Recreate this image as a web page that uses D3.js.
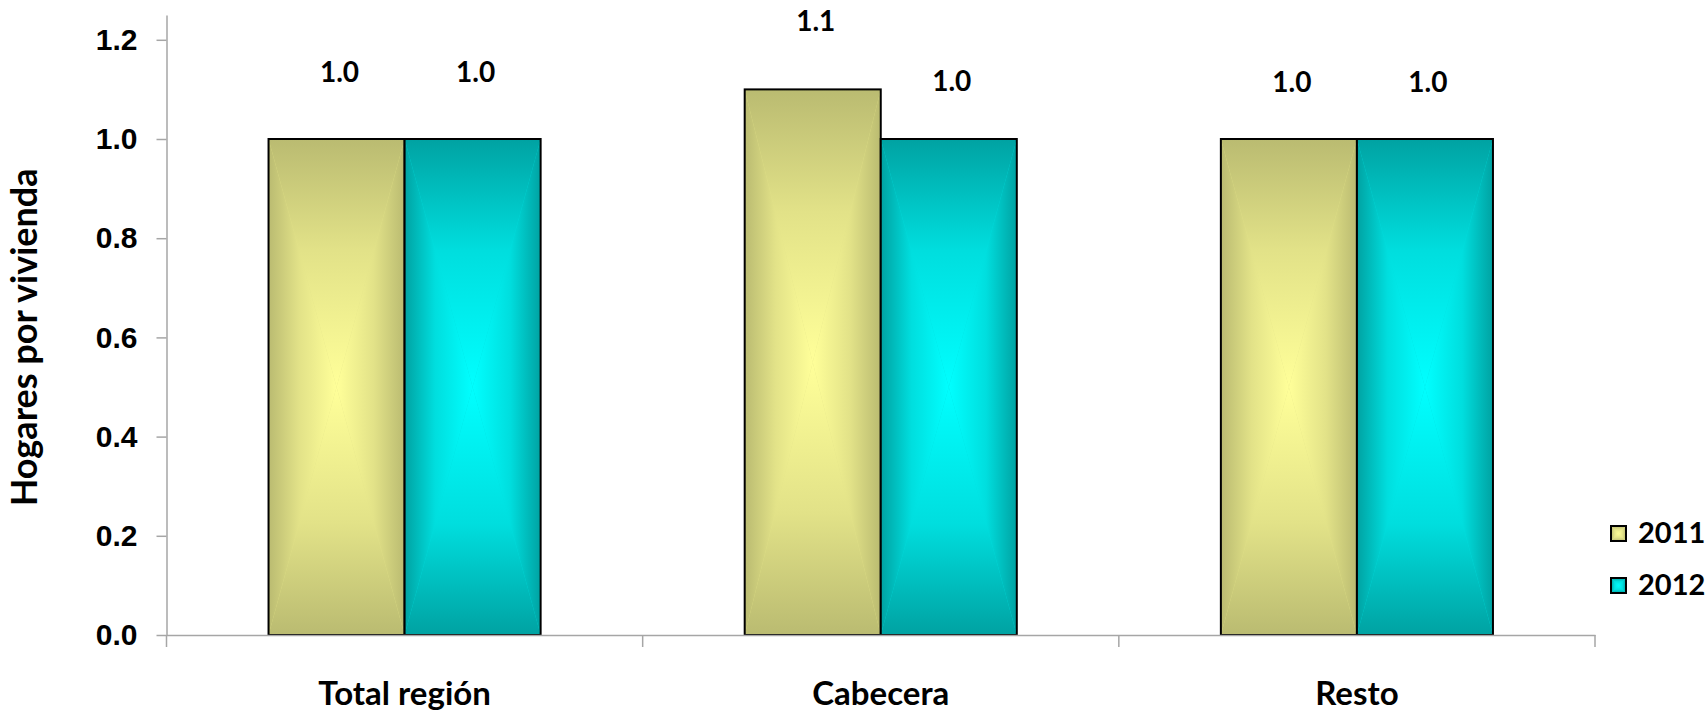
<!DOCTYPE html>
<html>
<head>
<meta charset="utf-8">
<script src="https://cdn.jsdelivr.net/npm/d3@7"></script>
<style>
  html, body { margin: 0; padding: 0; background: #ffffff; }
  svg { display: block; }
</style>
</head>
<body>
<svg id="chart" width="1706" height="712"></svg>
<script>
// ---- data ----
const categories = ["Total región", "Cabecera", "Resto"];
const series = ["2011", "2012"];
const values2011 = [1.0, 1.1, 1.0];
const values2012 = [1.0, 1.0, 1.0];
const labels2011 = ["1.0", "1.1", "1.0"];
const labels2012 = ["1.0", "1.0", "1.0"];
const yTicks = [0.0, 0.2, 0.4, 0.6, 0.8, 1.0, 1.2];
const yTitle = "Hogares por vivienda";

// ---- layout / style ----
const W = 1706, H = 712;
const plot = { left: 166.5, right: 1595, top: 15, bottom: 635 };
const colors = {
  "2011": { edge: "#babb71", mid: "#e2e288", center: "#ffff99" },
  "2012": { edge: "#00a2a2", mid: "#00dede", center: "#00ffff" }
};
// vertical lift (px) of each value label above its bar top [category][series]
const labelLift = [[67, 67], [68, 58], [57, 57]];
const axisColor = "#a6a6a6";

const svg = d3.select("#chart");
const defs = svg.append("defs");

const valuesBySeries = { "2011": values2011, "2012": values2012 };
const labelsBySeries = { "2011": labels2011, "2012": labels2012 };
const rows = categories.map((c, i) => ({
  cat: c, idx: i,
  vals: series.map(s => ({ s, v: valuesBySeries[s][i], label: labelsBySeries[s][i] }))
}));

// scales
const x0 = d3.scaleBand().domain(categories).range([plot.left, plot.right]).padding(0);
const x1 = d3.scaleBand().domain(series).range([0, x0.bandwidth()]).paddingInner(0).paddingOuter(0.75);
const y = d3.scaleLinear().domain([0, 1.25]).range([plot.bottom, plot.top]);

// gradients: rectangular "from centre" fill built from four triangles
const dirs = {
  left:   { x1: 0, y1: 0, x2: 1, y2: 0 },
  right:  { x1: 1, y1: 0, x2: 0, y2: 0 },
  top:    { x1: 0, y1: 0, x2: 0, y2: 1 },
  bottom: { x1: 0, y1: 1, x2: 0, y2: 0 }
};
series.forEach(s => {
  Object.entries(dirs).forEach(([k, d]) => {
    const g = defs.append("linearGradient")
      .attr("id", `g${s}${k}`)
      .attr("x1", d.x1).attr("y1", d.y1).attr("x2", d.x2).attr("y2", d.y2);
    g.append("stop").attr("offset", 0).attr("stop-color", colors[s].edge);
    g.append("stop").attr("offset", 0.45).attr("stop-color", colors[s].mid);
    g.append("stop").attr("offset", 1).attr("stop-color", colors[s].center);
  });
});

function gradientBox(sel, s, x, top, w, h) {
  const bottom = top + h, cx = x + w / 2, cy = top + h / 2;
  sel.append("rect").attr("x", x).attr("y", top).attr("width", w).attr("height", h)
    .attr("fill", colors[s].mid);
  const tris = {
    left:   [[x, top], [cx, cy], [x, bottom]],
    right:  [[x + w, top], [cx, cy], [x + w, bottom]],
    top:    [[x, top], [x + w, top], [cx, cy]],
    bottom: [[x, bottom], [x + w, bottom], [cx, cy]]
  };
  Object.entries(tris).forEach(([k, pts]) => {
    sel.append("path").attr("d", d3.line()(pts) + "Z").attr("fill", `url(#g${s}${k})`);
  });
  sel.append("rect").attr("x", x).attr("y", top).attr("width", w).attr("height", h)
    .attr("fill", "none").attr("stroke", "#000").attr("stroke-width", 2);
}

// bars
const catG = svg.selectAll("g.cat").data(rows).join("g").attr("class", "cat");
catG.each(function (r) {
  const g = d3.select(this);
  r.vals.forEach(d => {
    const bx = x0(r.cat) + x1(d.s);
    const bw = x1.bandwidth();
    const top = y(d.v);
    gradientBox(g.append("g"), d.s, bx, top, bw, y(0) - top);
  });
});

// value labels
catG.each(function (r) {
  const g = d3.select(this);
  r.vals.forEach((d, j) => {
    g.append("text")
      .attr("x", x0(r.cat) + x1(d.s) + x1.bandwidth() / 2 + 3)
      .attr("y", y(d.v) - labelLift[r.idx][j] + 10)
      .attr("text-anchor", "middle")
      .attr("font-family", "Lato, 'Open Sans', sans-serif")
      .attr("font-weight", 700)
      .attr("font-size", 28)
      .attr("fill", "#000")
      .text(d.label);
  });
});

// y axis
const yAxis = d3.axisLeft(y).tickValues(yTicks).tickSize(10).tickSizeOuter(0)
  .tickPadding(19).tickFormat(d3.format(".1f"));
const yG = svg.append("g").attr("transform", `translate(${plot.left},0)`).call(yAxis);
yG.select(".domain").attr("stroke", axisColor).attr("stroke-width", 1.5);
yG.selectAll(".tick line").attr("stroke", axisColor).attr("stroke-width", 1.5);
yG.selectAll(".tick text")
  .attr("font-family", "'Liberation Sans', Arial, sans-serif")
  .attr("font-weight", 700).attr("font-size", 30).attr("fill", "#000");

// x axis
const xAxis = d3.axisBottom(x0).tickSize(0).tickSizeOuter(0).tickPadding(47);
const xG = svg.append("g").attr("transform", `translate(0,${plot.bottom})`).call(xAxis);
xG.select(".domain").attr("stroke", axisColor).attr("stroke-width", 1.5);
xG.selectAll(".tick text")
  .attr("font-family", "Lato, 'Open Sans', sans-serif")
  .attr("font-weight", 700).attr("font-size", 33).attr("fill", "#000");
const bounds = categories.map(c => x0(c)).concat([x0.range()[1]]);
xG.selectAll("line.bound").data(bounds).join("line").attr("class", "bound")
  .attr("x1", d => d).attr("x2", d => d).attr("y1", 0).attr("y2", 12)
  .attr("stroke", axisColor).attr("stroke-width", 1.5);

// y title
svg.append("text")
  .attr("transform", `translate(37,${(y(1.2) + y(0)) / 2}) rotate(-90)`)
  .attr("text-anchor", "middle")
  .attr("font-family", "Lato, 'Open Sans', sans-serif")
  .attr("font-weight", 700).attr("font-size", 36).attr("fill", "#000")
  .text(yTitle);

// legend
const legend = svg.append("g").attr("transform", "translate(1611,526)");
series.forEach((s, i) => {
  const lg = legend.append("g").attr("transform", `translate(0,${i * 52})`);
  gradientBox(lg, s, 0, 0, 15, 15);
  lg.append("text").attr("x", 27).attr("y", 17)
    .attr("font-family", "Lato, 'Open Sans', sans-serif")
    .attr("font-weight", 700).attr("font-size", 29).attr("fill", "#000")
    .text(s);
});
</script>
</body>
</html>
